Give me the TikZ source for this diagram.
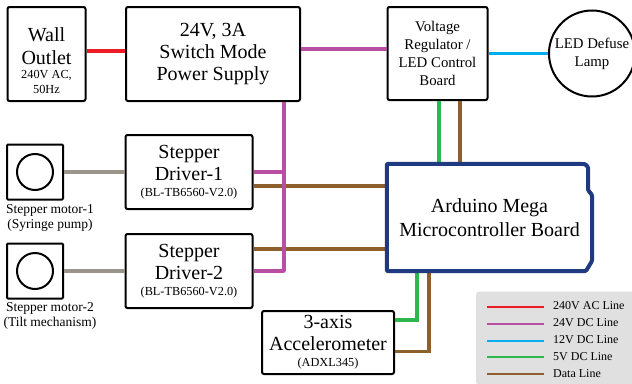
\documentclass[tikz,border=0pt]{standalone}
\usepackage{fontspec}
\setmainfont{Liberation Serif}
\usetikzlibrary{calc}
\definecolor{acred}{HTML}{ED1C24}
\definecolor{dcpurple}{HTML}{B84FA3}
\definecolor{dccyan}{HTML}{00AEEF}
\definecolor{dcgreen}{HTML}{2DB84D}
\definecolor{databrown}{HTML}{8C5F2D}
\definecolor{motorgrey}{HTML}{9A948A}
\definecolor{boardblue}{HTML}{1F3A80}
\definecolor{legendgrey}{HTML}{E0E0E0}
\newcommand{\subfont}{\fontsize{12.3}{14}\selectfont}
\tikzset{
    blockbox/.style={draw, line width=2pt, rounded corners=2pt, fill=white, align=center, inner sep=0pt, font=\fontsize{20}{22}\selectfont},
    smallbox/.style={blockbox, font=\fontsize{14.8}{18}\selectfont},
    captiontext/.style={align=center, inner sep=0pt, font=\fontsize{13.5}{15}\selectfont},
    legendtext/.style={anchor=west, inner sep=0pt, font=\fontsize{12}{15}\selectfont},
    wire/.style={line width=3.8pt},
    legendwire/.style={line width=2pt}
}

\begin{document}
\begin{tikzpicture}[x=1pt,y=-1pt]
    \useasboundingbox (0,0) rectangle (632,383);

    % legend background
    \node[fill=legendgrey, rounded corners=3pt, minimum width=160pt, minimum height=93pt, inner sep=0pt] (legendbox) at (556,338) {};

    % blocks
    \node[blockbox, minimum width=78pt, minimum height=94pt] (outlet) at (46.5,54) {\rule{0pt}{27pt}Wall\\[1pt]Outlet\\[-8pt]{\subfont 240V AC,}\\[-7pt]{\subfont 50Hz}};
    \node[blockbox, minimum width=174pt, minimum height=94pt] (psu) at (213,54) {24V, 3A\\Switch Mode\\Power Supply};
    \node[smallbox, minimum width=100pt, minimum height=93pt] (regulator) at (437.5,53.5) {Voltage\\Regulator /\\LED Control\\Board};
    \node[blockbox, circle, minimum size=86pt, font=\fontsize{14.8}{18}\selectfont] (lamp) at (592,53.5) {LED Defuse\\Lamp};

    \node[blockbox, rounded corners=1pt, minimum width=56pt, minimum height=55pt] (motora) at (35,172) {};
    \node[draw, line width=2pt, circle, minimum size=36pt, inner sep=0pt] (rotora) at (35,172) {};
    \node[captiontext] (motoralabel) at (50,218) {Stepper motor-1\\(Syringe pump)};
    \node[blockbox, rounded corners=1pt, minimum width=56pt, minimum height=55pt] (motorb) at (35,271) {};
    \node[draw, line width=2pt, circle, minimum size=36pt, inner sep=0pt] (rotorb) at (35,271) {};
    \node[captiontext] (motorblabel) at (50,316) {Stepper motor-2\\(Tilt mechanism)};

    \node[blockbox, minimum width=127pt, minimum height=74pt] (drivera) at (189,172) {Stepper\\Driver-1\\[-6pt]{\subfont (BL-TB6560-V2.0)}};
    \node[blockbox, minimum width=127pt, minimum height=74pt] (driverb) at (189,271) {Stepper\\Driver-2\\[-6pt]{\subfont (BL-TB6560-V2.0)}};
    \node[blockbox, minimum width=132pt, minimum height=63pt] (accel) at (328,342.5) {3-axis\\Accelerometer\\[-6pt]{\subfont (ADXL345)}};
    \node[inner sep=0pt, minimum width=205pt, minimum height=107pt] (arduino) at (489.5,217.5) {};

    % tap points
    \coordinate (psutap) at ([xshift=71pt]psu.south);
    \coordinate (regfive) at ([xshift=1.5pt]regulator.south);
    \coordinate (regdata) at ([xshift=22.5pt]regulator.south);
    \coordinate (ardfive) at ([xshift=-72.5pt]arduino.south);
    \coordinate (arddata) at ([xshift=-60.5pt]arduino.south);

    % data lines go under the power rail
    \draw[wire, databrown] ([yshift=-14pt]drivera.east) -- ([yshift=31.5pt]arduino.west);
    \draw[wire, databrown] ([yshift=22pt]driverb.east) -- ([yshift=-31.5pt]arduino.west);
    \draw[wire, databrown] (regdata) -- (regdata |- arduino.north);
    \draw[wire, databrown] (arddata) |- ([yshift=-9pt]accel.east);

    \draw[wire, acred] ([yshift=3pt]outlet.east) -- ([yshift=3pt]psu.west);
    \draw[wire, dcpurple] ([yshift=5pt]psu.east) -- ([yshift=4.5pt]regulator.west);
    \draw[wire, dccyan] (regulator.east) -- (lamp.west);
    \draw[wire, dcpurple, line join=round] (psutap) |- (driverb.east);
    \draw[wire, dcpurple] (drivera.east) -- (psutap |- drivera.east);
    \draw[wire, dcgreen] (regfive) -- (regfive |- arduino.north);
    \draw[wire, dcgreen] (ardfive) |- ([yshift=22.5pt]accel.east);
    \draw[wire, motorgrey] (motora.east) -- (drivera.west);
    \draw[wire, motorgrey] (motorb.east) -- (driverb.west);

    % board outline with the notched edge
    \draw[line width=4pt, boardblue, line join=round, fill=white, rounded corners=1pt] (arduino.north west) -- (585,164) -- (588,167) -- (588,190) -- (592,195) -- (592,261) -- (586,271) -- (arduino.south west) -- cycle;
    \node[inner sep=0pt, align=center, font=\fontsize{20}{24}\selectfont] (arduinotext) at (arduino.center) {Arduino Mega\\Microcontroller Board};

    % legend
    \draw[legendwire, acred] (487,306.5) -- (544,306.5);
    \draw[legendwire, dcpurple] (487,323.5) -- (544,323.5);
    \draw[legendwire, dccyan] (487,340.5) -- (544,340.5);
    \draw[legendwire, dcgreen] (487,357) -- (544,357);
    \draw[legendwire, databrown] (487,374) -- (544,374);
    \node[legendtext] (legac) at (553,306) {240V AC Line};
    \node[legendtext] (legtf) at (553,323) {24V DC Line};
    \node[legendtext] (legtw) at (553,340) {12V DC Line};
    \node[legendtext] (legfv) at (553,356.5) {5V DC Line};
    \node[legendtext] (legdt) at (553,373.5) {Data Line};
\end{tikzpicture}
\end{document}
